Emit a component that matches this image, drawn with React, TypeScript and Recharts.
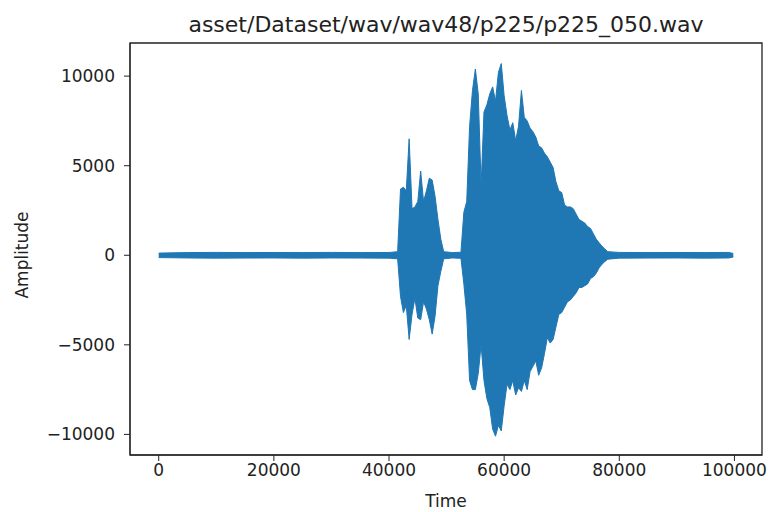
import { ComposedChart, Area, XAxis, YAxis, ReferenceArea } from "recharts";

// sample index (time) of each envelope point
const times = [
  0, 5000, 10000, 15000, 20000, 25000, 30000, 35000, 40000, 41500,
  42000, 42500, 43000, 43500, 44000, 44500, 45000, 45500, 46000, 46500,
  47000, 47500, 48000, 48500, 49000, 49500, 51000, 52500,
  53000, 53500, 54000, 54500, 55000, 55500, 56000, 56500, 57000, 57500,
  58000, 58500, 59000, 59500, 60000, 60500, 61000, 61500, 62000, 62500,
  63000, 63500, 64000, 64500, 65000, 65500, 66000, 66500, 67000, 67500,
  68000, 68500, 69000, 69500, 70000, 70500, 71000, 71500, 72000, 72500,
  73000, 73500, 74000, 74500, 75000, 75500, 76000, 76500, 77000, 77500,
  78000, 80000, 85000, 90000, 95000, 99000, 99800,
];

// upper envelope of the waveform
const upper = [
  120, 150, 160, 150, 155, 150, 160, 150, 155, 200,
  3700, 3800, 3600, 6500, 2600, 2700, 3000, 4700, 3000, 3600,
  4300, 4200, 3300, 2000, 900, 200, 150, 170,
  2400, 3000, 7200, 9200, 10400, 9000, 3900, 8000, 8400, 9000,
  9400, 8600, 10200, 10700, 8900, 7800, 7000, 7400, 6400, 7200,
  9200, 7700, 7500, 7100, 6900, 6600, 6100, 6000, 5700, 5500,
  5200, 4900, 4100, 3600, 3500, 2800, 2700, 2700, 2600, 2300,
  2000, 1900, 1800, 1600, 1500, 1200, 900, 700, 500, 350,
  200, 160, 150, 155, 150, 160, 100,
];

// lower envelope of the waveform
const lower = [
  -130, -150, -160, -155, -150, -160, -150, -155, -160, -200,
  -2300, -3200, -2800, -4700, -3300, -2400, -3500, -3600, -2600, -3000,
  -3600, -4400, -3400, -1700, -900, -200, -150, -170,
  -1600, -3300, -7000, -7500, -7500, -6600, -5000, -7000, -8000, -8500,
  -9700, -10100, -9500, -9800, -8400, -7200, -7500, -7000, -7800, -7400,
  -7600, -7000, -7500, -6500, -6200, -5900, -6700, -6300, -5500, -4600,
  -4900, -4700, -4000, -3300, -3200, -2900, -2600, -2500, -2300, -2100,
  -1800, -1800, -1700, -1600, -1300, -1200, -1000, -700, -500, -350,
  -220, -160, -155, -150, -160, -150, -100,
];

const xTicks = [0, 20000, 40000, 60000, 80000, 100000];
const yTicks = [-10000, -5000, 0, 5000, 10000];

const data = times.map((t, i) => ({ t, band: [lower[i], upper[i]] }));

const FONT = "'DejaVu Sans', sans-serif";
const INK = "#222";
const BLUE = "#1f77b4";

const xDomain = [-4990, 104790];
const yDomain = [-11150, 11850];

const fmt = (v: number) => (v < 0 ? "\u2212" + Math.abs(v) : String(v));

export default function App() {
  return (
    <div
      style={{
        position: "absolute",
        left: 0,
        top: 0,
        width: 768,
        height: 512,
        background: "#fff",
        fontFamily: FONT,
        color: INK,
      }}
    >
      <div
        style={{
          position: "absolute",
          left: 130,
          width: 632,
          top: 12,
          textAlign: "center",
          fontSize: 22,
          lineHeight: "26px",
          whiteSpace: "nowrap",
        }}
      >
        asset/Dataset/wav/wav48/p225/p225_050.wav
      </div>

      <div
        style={{
          position: "absolute",
          left: 22,
          top: 255,
          fontSize: 17,
          whiteSpace: "nowrap",
          transform: "translate(-50%, -50%) rotate(-90deg)",
        }}
      >
        Amplitude
      </div>

      <div
        style={{
          position: "absolute",
          left: 130,
          width: 632,
          top: 491,
          textAlign: "center",
          fontSize: 17,
          lineHeight: "20px",
        }}
      >
        Time
      </div>

      <ComposedChart
        width={768}
        height={512}
        data={data}
        margin={{ top: 43, right: 6, bottom: 0, left: 0 }}
        style={{ position: "absolute", left: 0, top: 0 }}
      >
        <XAxis
          dataKey="t"
          type="number"
          domain={xDomain}
          ticks={xTicks}
          allowDataOverflow
          height={57}
          tickSize={6}
          tickMargin={3}
          stroke={INK}
          tick={{ fill: INK, fontSize: 17, fontFamily: FONT }}
          tickFormatter={fmt}
        />
        <YAxis
          type="number"
          domain={yDomain}
          ticks={yTicks}
          allowDataOverflow
          width={130}
          tickSize={6}
          tickMargin={9}
          stroke={INK}
          tick={{ fill: INK, fontSize: 17, fontFamily: FONT }}
          tickFormatter={fmt}
        />
        <Area
          dataKey="band"
          type="linear"
          stroke={BLUE}
          strokeWidth={1}
          fill={BLUE}
          fillOpacity={1}
          dot={false}
          activeDot={false}
          isAnimationActive={false}
        />
        <ReferenceArea
          x1={xDomain[0]}
          x2={xDomain[1]}
          y1={yDomain[0]}
          y2={yDomain[1]}
          fill="none"
          stroke={INK}
          strokeWidth={1.3}
        />
      </ComposedChart>
    </div>
  );
}
